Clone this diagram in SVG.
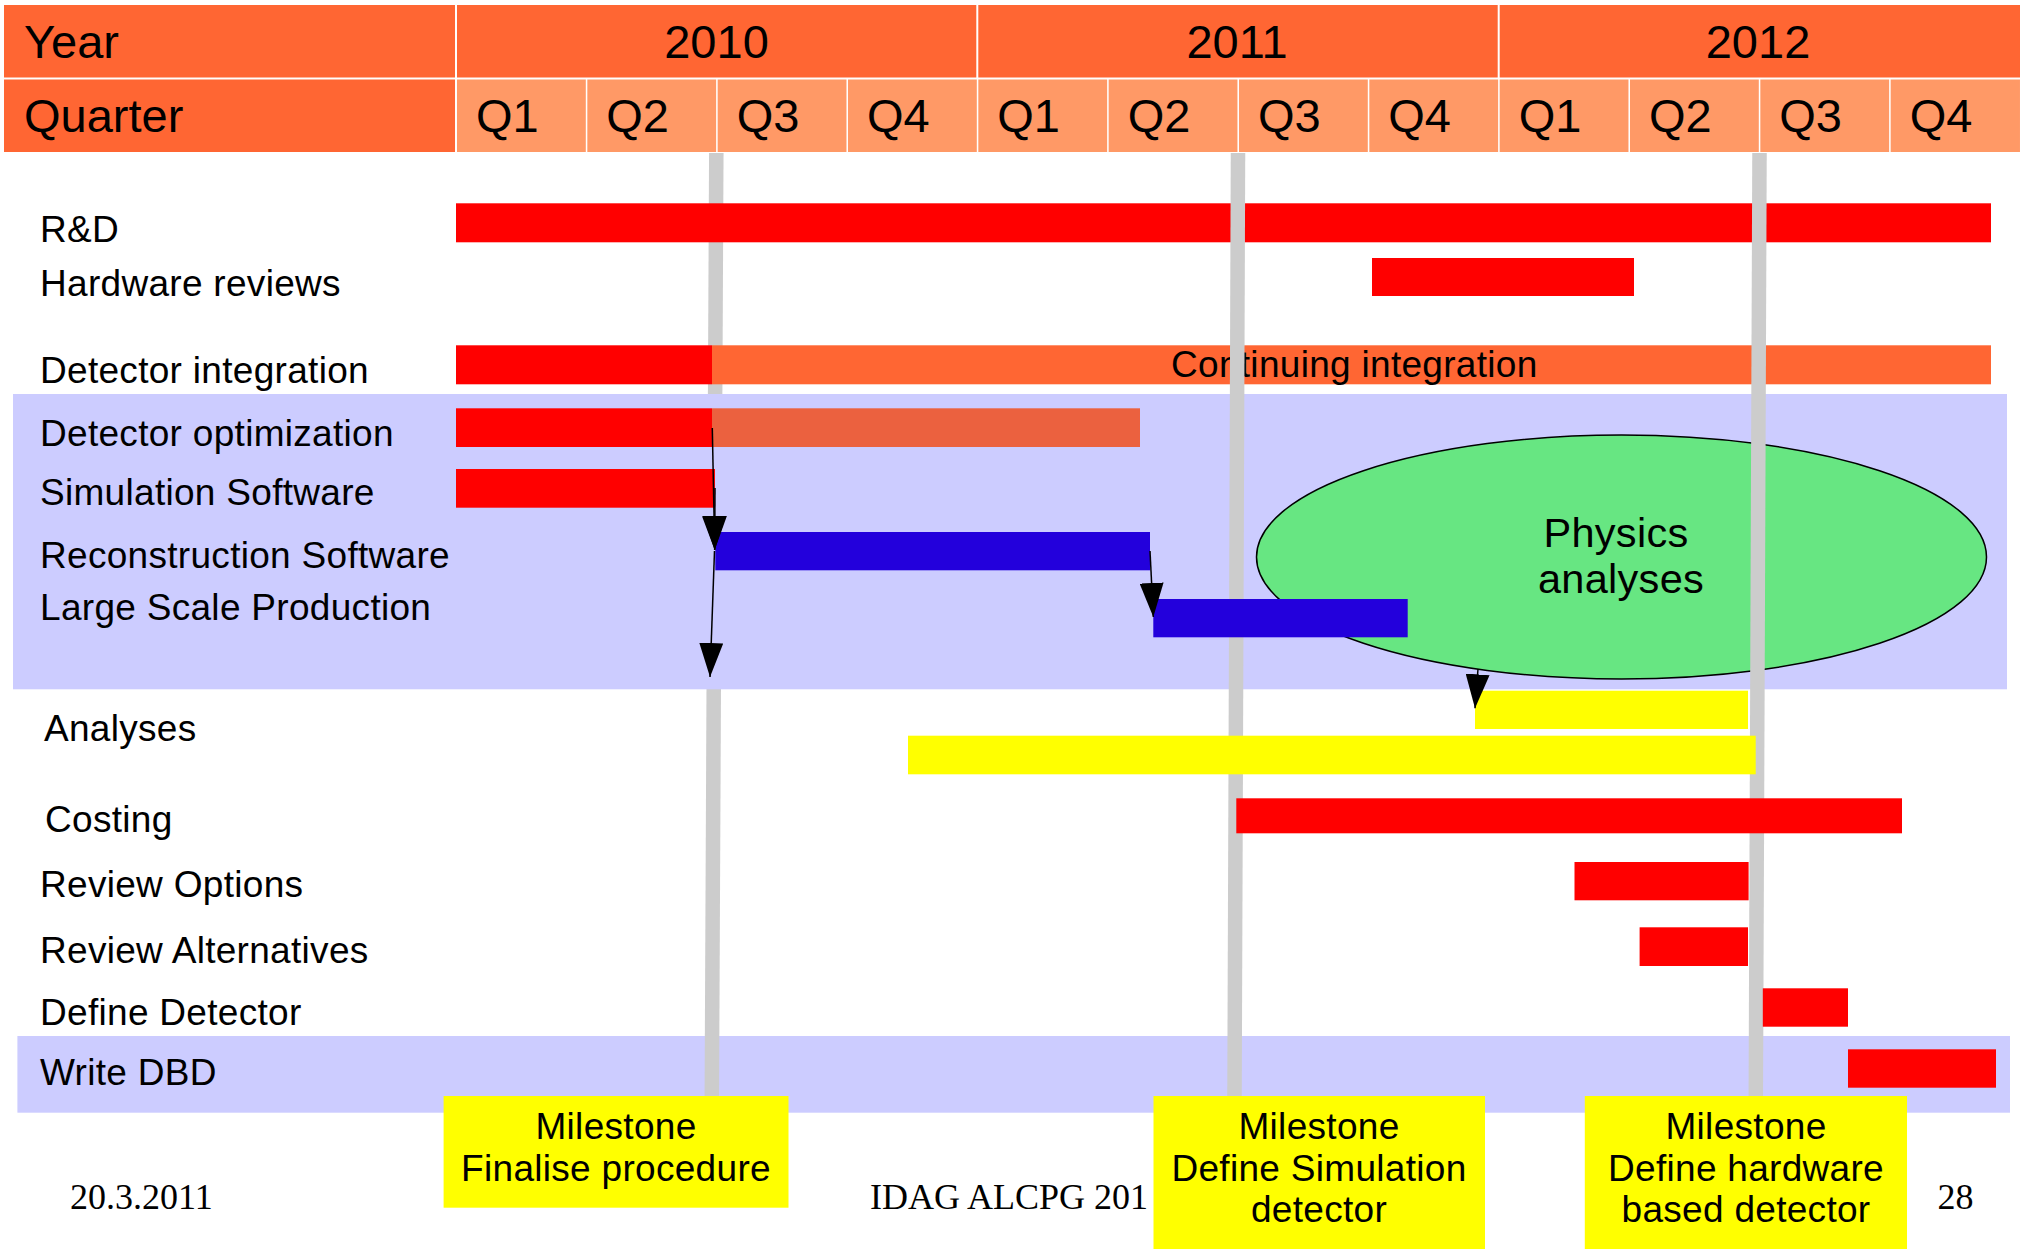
<svg xmlns="http://www.w3.org/2000/svg" width="2022" height="1249" viewBox="0 0 2022 1249">
<defs>
<style>
.t{font-family:"Liberation Sans",Arial,sans-serif;font-size:37px;fill:#000;letter-spacing:0.3px}
.h{font-family:"Liberation Sans",Arial,sans-serif;font-size:47px;fill:#000}
.c{text-anchor:middle}
.f{font-family:"Liberation Serif","Times New Roman",serif;font-size:36px;fill:#000}
.yr{fill:#FF6633}
.qt{fill:#FF9966}
.red{fill:#FF0000}
.org{fill:#FF6633}
.sal{fill:#EB613F}
.blu{fill:#2300DC}
.yel{fill:#FFFF00}
.band{fill:#CCCCFF}
.ms{stroke:#CCCCCC;stroke-width:14.5;fill:none}
.con{stroke:#000;stroke-width:1.5;fill:none;marker-end:url(#ah)}
</style>
<marker id="ah" markerUnits="userSpaceOnUse" markerWidth="34" markerHeight="24" viewBox="0 0 34 24" refX="34" refY="12" orient="auto">
<path d="M0,0 L34,12 L0,24 z" fill="#000"/>
</marker>
</defs>
<rect x="0" y="0" width="2022" height="1249" fill="#FFFFFF"/>

<g id="header">
<rect class="yr" x="4" y="5" width="451" height="72.5"/>
<rect class="yr" x="4" y="79.5" width="451" height="72.5"/>
<rect class="yr" x="457" y="5" width="519.3" height="72.5"/>
<rect class="yr" x="978.3" y="5" width="519.4" height="72.5"/>
<rect class="yr" x="1499.7" y="5" width="520.3" height="72.5"/>
<rect class="qt" x="457" y="79.5" width="128.8" height="72.5"/>
<rect class="qt" x="587.33" y="79.5" width="128.8" height="72.5"/>
<rect class="qt" x="717.67" y="79.5" width="128.8" height="72.5"/>
<rect class="qt" x="848" y="79.5" width="128.8" height="72.5"/>
<rect class="qt" x="978.33" y="79.5" width="128.8" height="72.5"/>
<rect class="qt" x="1108.67" y="79.5" width="128.8" height="72.5"/>
<rect class="qt" x="1239" y="79.5" width="128.8" height="72.5"/>
<rect class="qt" x="1369.33" y="79.5" width="128.8" height="72.5"/>
<rect class="qt" x="1499.67" y="79.5" width="128.8" height="72.5"/>
<rect class="qt" x="1630" y="79.5" width="128.8" height="72.5"/>
<rect class="qt" x="1760.33" y="79.5" width="128.8" height="72.5"/>
<rect class="qt" x="1890.67" y="79.5" width="129.3" height="72.5"/>
<text class="h" x="24" y="58.3">Year</text>
<text class="h" x="24" y="131.7">Quarter</text>
<text class="h c" x="716.5" y="58.3">2010</text>
<text class="h c" x="1237" y="58.3">2011</text>
<text class="h c" x="1758" y="58.3">2012</text>
<text class="h" x="476" y="131.7">Q1</text>
<text class="h" x="606.3" y="131.7">Q2</text>
<text class="h" x="736.7" y="131.7">Q3</text>
<text class="h" x="867" y="131.7">Q4</text>
<text class="h" x="997.3" y="131.7">Q1</text>
<text class="h" x="1127.7" y="131.7">Q2</text>
<text class="h" x="1258" y="131.7">Q3</text>
<text class="h" x="1388.3" y="131.7">Q4</text>
<text class="h" x="1518.7" y="131.7">Q1</text>
<text class="h" x="1649" y="131.7">Q2</text>
<text class="h" x="1779.3" y="131.7">Q3</text>
<text class="h" x="1909.7" y="131.7">Q4</text>
</g>

<rect id="band-dbd" class="band" x="17.4" y="1036" width="1992.6" height="76.7"/>
<line id="milestone-line-1" class="ms" x1="716.3" y1="153" x2="711.8" y2="1096"/>

<g id="row-rd">
<text class="t" x="40" y="241.7">R&amp;D</text>
<rect class="red" x="456" y="203.3" width="1535" height="39"/>
</g>
<g id="row-hardware">
<text class="t" x="40" y="296">Hardware reviews</text>
<rect class="red" x="1372" y="258" width="262" height="38"/>
</g>
<g id="row-integration">
<text class="t" x="40" y="383.3">Detector integration</text>
<rect class="red" x="456" y="345.3" width="256" height="39"/>
<rect class="org" x="712" y="345.3" width="1279" height="39"/>
<text class="t" x="1171" y="377">Continuing integration</text>
</g>

<rect id="band-software" class="band" x="13" y="394" width="1994" height="295.3"/>

<g id="physics-analyses">
<ellipse cx="1621.5" cy="557" rx="365" ry="122" fill="#67E682" stroke="#000" stroke-width="1.5"/>
<text class="t c" x="1616" y="546.7" style="font-size:41.5px;letter-spacing:0.3px">Physics</text>
<text class="t c" x="1621" y="593.3" style="font-size:41.5px;letter-spacing:0.3px">analyses</text>
</g>

<line id="milestone-line-2" class="ms" x1="1238" y1="153" x2="1234.5" y2="1096"/>
<line id="milestone-line-3" class="ms" x1="1759.5" y1="153" x2="1755.8" y2="1096"/>

<g id="row-optimization">
<text class="t" x="40" y="445.7">Detector optimization</text>
<rect class="red" x="456" y="408.3" width="256" height="38.7"/>
<rect class="sal" x="712" y="408.3" width="428" height="38.7"/>
</g>
<g id="row-simulation">
<text class="t" x="40" y="505">Simulation Software</text>
<rect class="red" x="456" y="469" width="259" height="38.7"/>
</g>
<g id="row-reconstruction">
<text class="t" x="40" y="568.3">Reconstruction Software</text>
<rect class="blu" x="715.3" y="532" width="434.7" height="38.3"/>
</g>
<g id="row-production">
<text class="t" x="40" y="620">Large Scale Production</text>
<rect class="blu" x="1153.3" y="599" width="254.4" height="38.3"/>
</g>
<g id="row-analyses">
<text class="t" x="44" y="740.7">Analyses</text>
<rect class="yel" x="1475" y="690.7" width="273" height="38.3"/>
<rect class="yel" x="908" y="735.7" width="847.7" height="38.6"/>
</g>
<g id="row-costing">
<text class="t" x="45" y="831.7">Costing</text>
<rect class="red" x="1236.3" y="798.3" width="665.7" height="35"/>
</g>
<g id="row-review-options">
<text class="t" x="40" y="897.3">Review Options</text>
<rect class="red" x="1574.5" y="862" width="174.1" height="38.3"/>
</g>
<g id="row-review-alternatives">
<text class="t" x="40" y="963.3">Review Alternatives</text>
<rect class="red" x="1639.6" y="927.3" width="108.4" height="38.7"/>
</g>
<g id="row-define">
<text class="t" x="40" y="1025">Define Detector</text>
<rect class="red" x="1762.8" y="988.3" width="85.2" height="38.4"/>
</g>
<g id="row-dbd">
<text class="t" x="40" y="1085">Write DBD</text>
<rect class="red" x="1848" y="1049.3" width="148" height="38.4"/>
</g>

<g id="connectors">
<line class="con" x1="712.3" y1="428" x2="714.7" y2="550"/>
<line class="con" x1="715" y1="488" x2="714.7" y2="550"/>
<line class="con" x1="714.5" y1="551" x2="710" y2="677"/>
<line class="con" x1="1150" y1="551" x2="1153.3" y2="617"/>
<line class="con" x1="1478" y1="669" x2="1475" y2="708.3"/>
</g>

<g id="footer">
<text class="f" x="70" y="1209">20.3.2011</text>
<text class="f" x="870" y="1209">IDAG ALCPG 201</text>
<text class="f" x="1937.5" y="1209">28</text>
</g>

<g id="milestone-1">
<rect class="yel" x="443.6" y="1096" width="344.9" height="111.7"/>
<text class="t c" x="616" y="1139">Milestone</text>
<text class="t c" x="616" y="1180.5">Finalise procedure</text>
</g>
<g id="milestone-2">
<rect class="yel" x="1153.5" y="1096" width="331.5" height="153"/>
<text class="t c" x="1319" y="1139">Milestone</text>
<text class="t c" x="1319" y="1180.7">Define Simulation</text>
<text class="t c" x="1319" y="1222">detector</text>
</g>
<g id="milestone-3">
<rect class="yel" x="1584.8" y="1096" width="322.2" height="153"/>
<text class="t c" x="1746" y="1139">Milestone</text>
<text class="t c" x="1746" y="1180.7">Define hardware</text>
<text class="t c" x="1746" y="1222">based detector</text>
</g>
</svg>
